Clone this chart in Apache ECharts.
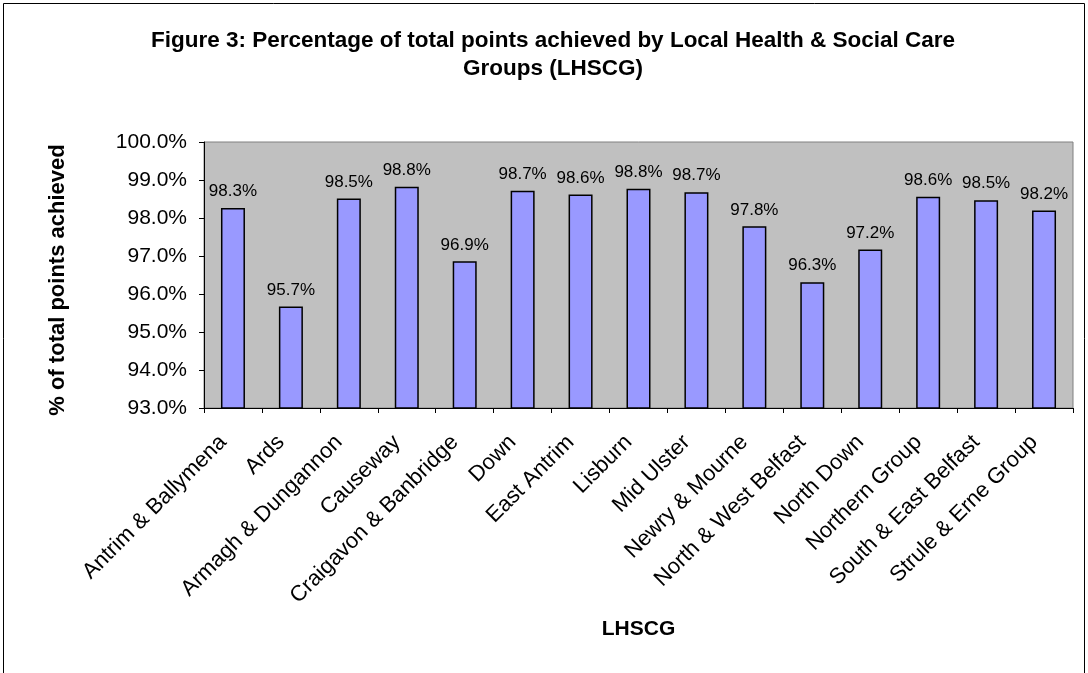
<!DOCTYPE html>
<html>
<head>
<meta charset="utf-8">
<script src="https://cdn.jsdelivr.net/npm/echarts@6/dist/echarts.min.js"></script>
<style>
html,body{margin:0;padding:0;background:#fff;}
#chart{width:1088px;height:673px;}
</style>
</head>
<body>
<div id="chart"></div>
<script>
var categories = ["Antrim & Ballymena","Ards","Armagh & Dungannon","Causeway","Craigavon & Banbridge","Down","East Antrim","Lisburn","Mid Ulster","Newry & Mourne","North & West Belfast","North Down","Northern Group","South & East Belfast","Strule & Erne Group"];
var values = [98.26, 95.67, 98.51, 98.82, 96.86, 98.72, 98.62, 98.77, 98.68, 97.78, 96.31, 97.17, 98.56, 98.47, 98.20];
var titleText = "Figure 3: Percentage of total points achieved by Local Health & Social Care\nGroups (LHSCG)";
var yName = "% of total points achieved";
var xName = "LHSCG";

var FONT = "'Liberation Sans', Arial, sans-serif";
var chart = echarts.init(document.getElementById('chart'), null, {renderer:'canvas'});
chart.setOption({
  animation: false,
  backgroundColor: '#ffffff',
  graphic: [
    {type:'rect', shape:{x:3.5, y:3.5, width:1081, height:700}, style:{fill:'none', stroke:'#000', lineWidth:1}, z:-10}
  ],
  title: {
    text: titleText,
    left: 548,
    textAlign: 'center',
    top: 22,
    textStyle: {fontFamily: FONT, fontSize: 22.5, fontWeight: 'bold', color: '#000', lineHeight: 28}
  },
  grid: {left: 204, right: 15, top: 142, bottom: 265, show: true, backgroundColor: '#c0c0c0', borderColor: '#808080', borderWidth: 1},
  xAxis: {
    type: 'category',
    data: categories,
    name: xName,
    nameLocation: 'middle',
    nameGap: 211,
    nameTextStyle: {fontFamily: FONT, fontSize: 21, fontWeight: 'bold', color: '#000'},
    axisLine: {lineStyle: {color: '#000', width: 1}},
    axisTick: {show: true, alignWithLabel: false, length: 5, lineStyle: {color: '#000'}},
    axisLabel: {rotate: 45, interval: 0, margin: 21, padding: [0, 14, 0, 0], fontFamily: FONT, fontSize: 22, color: '#000'}
  },
  yAxis: {
    type: 'value',
    min: 93, max: 100, interval: 1,
    name: yName,
    nameLocation: 'middle',
    nameGap: 135,
    nameRotate: 90,
    nameTextStyle: {fontFamily: FONT, fontSize: 22, fontWeight: 'bold', color: '#000', padding: [0, 10, 0, 0]},
    axisLine: {show: true, lineStyle: {color: '#000', width: 1}},
    axisTick: {show: true, length: 5, lineStyle: {color: '#000'}},
    splitLine: {show: false},
    axisLabel: {margin: 17, fontFamily: FONT, fontSize: 21, color: '#000', formatter: function(v){ return v.toFixed(1) + '%'; }}
  },
  series: [{
    type: 'bar',
    data: values,
    barWidth: 24,
    itemStyle: {color: '#9999ff', borderColor: '#000', borderWidth: 1.5},
    label: {show: true, position: 'top', distance: 8, fontFamily: FONT, fontSize: 17, color: '#000',
      formatter: function(p){ return p.value.toFixed(1) + '%'; }}
  }]
});
</script>
</body>
</html>
